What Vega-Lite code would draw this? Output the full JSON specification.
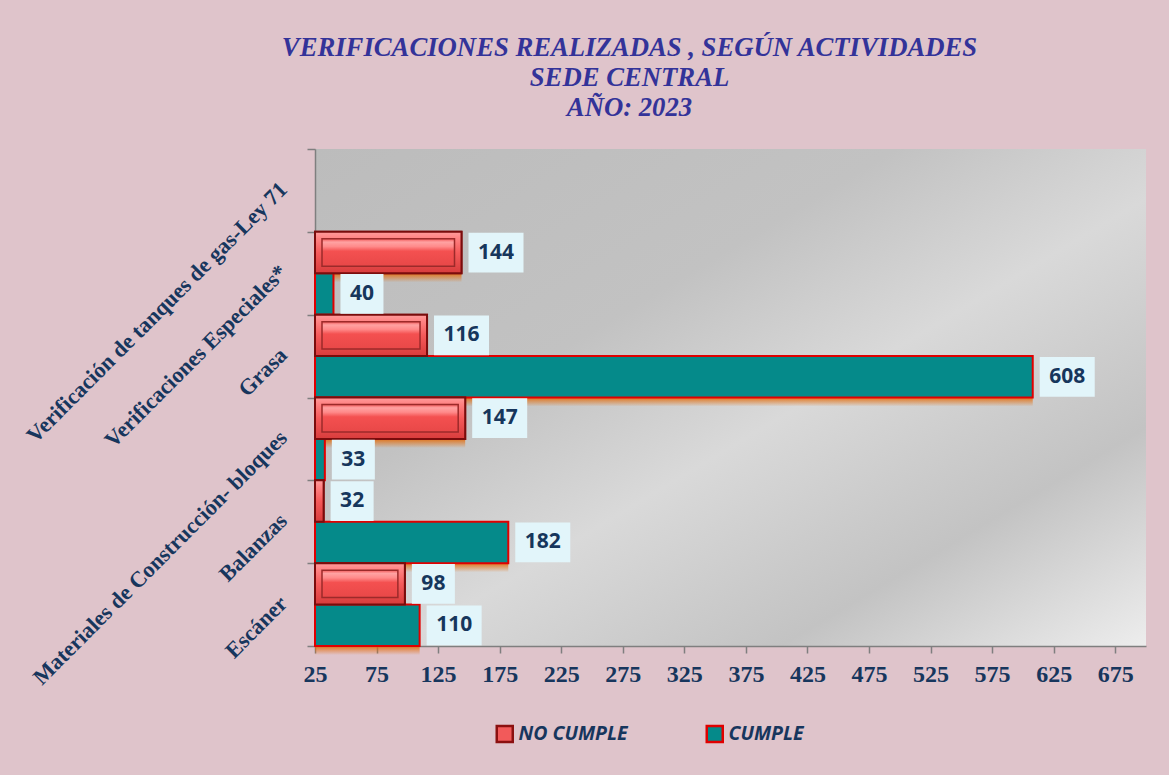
{
  "$schema": "https://vega.github.io/schema/vega-lite/v6.json",
  "width": 831,
  "height": 497,
  "autosize": {"type": "none"},
  "padding": {"left": 315, "top": 149, "right": 23, "bottom": 129},
  "background": "#dfc4cb",
  "title": {
    "text": ["VERIFICACIONES REALIZADAS , SEGÚN ACTIVIDADES", "SEDE CENTRAL", "AÑO: 2023"],
    "font": "Liberation Serif",
    "fontSize": 26.7,
    "fontStyle": "italic",
    "fontWeight": "bold",
    "color": "#333399",
    "lineHeight": 30,
    "anchor": "middle",
    "frame": "group",
    "dx": -101,
    "offset": 15
  },
  "config": {
    "view": {
      "stroke": null,
      "fill": {
        "gradient": "linear",
        "x1": 0, "y1": 0, "x2": 1, "y2": 1,
        "stops": [
          {"offset": 0, "color": "#bcbcbc"},
          {"offset": 0.35, "color": "#c2c2c2"},
          {"offset": 0.55, "color": "#d9d9d9"},
          {"offset": 0.78, "color": "#c3c3c3"},
          {"offset": 1, "color": "#ededed"}
        ]
      }
    }
  },
  "data": {
    "values": [
      {"actividad": "Verificaciones Especiales*", "serie": "NO CUMPLE", "slot": "Verificaciones Especiales* - NO CUMPLE", "valor": 144},
      {"actividad": "Verificaciones Especiales*", "serie": "CUMPLE", "slot": "Verificaciones Especiales* - CUMPLE", "valor": 40},
      {"actividad": "Grasa", "serie": "NO CUMPLE", "slot": "Grasa - NO CUMPLE", "valor": 116},
      {"actividad": "Grasa", "serie": "CUMPLE", "slot": "Grasa - CUMPLE", "valor": 608},
      {"actividad": "Materiales de Construcción- bloques", "serie": "NO CUMPLE", "slot": "Materiales de Construcción- bloques - NO CUMPLE", "valor": 147},
      {"actividad": "Materiales de Construcción- bloques", "serie": "CUMPLE", "slot": "Materiales de Construcción- bloques - CUMPLE", "valor": 33},
      {"actividad": "Balanzas", "serie": "NO CUMPLE", "slot": "Balanzas - NO CUMPLE", "valor": 32},
      {"actividad": "Balanzas", "serie": "CUMPLE", "slot": "Balanzas - CUMPLE", "valor": 182},
      {"actividad": "Escáner", "serie": "NO CUMPLE", "slot": "Escáner - NO CUMPLE", "valor": 98},
      {"actividad": "Escáner", "serie": "CUMPLE", "slot": "Escáner - CUMPLE", "valor": 110}
    ]
  },
  "layer": [
    {
      "mark": {"type": "rule", "opacity": 0},
      "encoding": {
        "y": {
          "field": "actividad",
          "type": "nominal",
          "scale": {
            "domain": ["Verificación de tanques de gas-Ley 71", "Verificaciones Especiales*", "Grasa", "Materiales de Construcción- bloques", "Balanzas", "Escáner"],
            "paddingInner": 0,
            "paddingOuter": 0
          },
          "axis": {
            "title": null,
            "tickBand": "extent",
            "labelAngle": -45,
            "labelAlign": "right",
            "labelBaseline": "alphabetic",
            "labelFont": "Liberation Serif",
            "labelFontWeight": "bold",
            "labelFontSize": 22.3,
            "labelColor": "#17365d",
            "labelPadding": 19,
            "labelLimit": 600,
            "tickSize": 8,
            "tickColor": "#7f7f7f",
            "tickWidth": 1.5,
            "domainColor": "#7f7f7f",
            "domainWidth": 1.5,
            "grid": false
          }
        }
      }
    },
    {
      "encoding": {
        "y": {
          "field": "slot",
          "type": "nominal",
          "scale": {
            "domain": [
              "Verificación de tanques de gas-Ley 71 - NO CUMPLE", "Verificación de tanques de gas-Ley 71 - CUMPLE",
              "Verificaciones Especiales* - NO CUMPLE", "Verificaciones Especiales* - CUMPLE",
              "Grasa - NO CUMPLE", "Grasa - CUMPLE",
              "Materiales de Construcción- bloques - NO CUMPLE", "Materiales de Construcción- bloques - CUMPLE",
              "Balanzas - NO CUMPLE", "Balanzas - CUMPLE",
              "Escáner - NO CUMPLE", "Escáner - CUMPLE"
            ],
            "paddingInner": 0,
            "paddingOuter": 0
          },
          "axis": null
        },
        "x": {
          "field": "valor",
          "type": "quantitative",
          "scale": {"domain": [25, 700], "zero": false, "nice": false},
          "axis": {
            "title": null,
            "values": [25, 75, 125, 175, 225, 275, 325, 375, 425, 475, 525, 575, 625, 675],
            "grid": false,
            "labelFont": "Liberation Serif",
            "labelFontWeight": "bold",
            "labelFontSize": 24,
            "labelColor": "#17365d",
            "labelPadding": 9,
            "labelFlush": false,
            "labelOverlap": false,
            "tickSize": 7,
            "tickColor": "#7f7f7f",
            "tickWidth": 1.5,
            "domainColor": "#7f7f7f",
            "domainWidth": 1.5
          }
        }
      },
      "layer": [
        {
          "mark": {
            "type": "bar",
            "yOffset": 9,
            "fill": {
              "gradient": "linear", "x1": 0, "y1": 0, "x2": 0, "y2": 1,
              "stops": [
                {"offset": 0, "color": "#e46c0a"},
                {"offset": 0.76, "color": "#e46c0a"},
                {"offset": 1, "color": "rgba(228,108,10,0)"}
              ]
            }
          },
          "encoding": {"x2": {"datum": 25}}
        },
        {
          "mark": {"type": "bar", "strokeWidth": 2},
          "encoding": {
            "x2": {"datum": 25},
            "color": {
              "field": "serie",
              "type": "nominal",
              "scale": {"domain": ["NO CUMPLE", "CUMPLE"], "range": ["#f25a5a", "#058a8a"]},
              "legend": {
                "orient": "none",
                "legendX": 180,
                "legendY": 575,
                "direction": "horizontal",
                "title": null,
                "symbolType": "square",
                "symbolSize": 256,
                "symbolStrokeWidth": 2.5,
                "labelFont": "Open Sans",
                "labelFontSize": 19.5,
                "labelFontStyle": "italic",
                "labelFontWeight": "bold",
                "labelColor": "#17365d",
                "labelOffset": 4,
                "columnPadding": 73,
                "labelLimit": 300
              }
            },
            "stroke": {
              "field": "serie",
              "type": "nominal",
              "scale": {"domain": ["NO CUMPLE", "CUMPLE"], "range": ["#8b1010", "#e00000"]},
              "legend": {
                "orient": "none",
                "legendX": 180,
                "legendY": 575,
                "direction": "horizontal",
                "title": null,
                "symbolType": "square",
                "symbolSize": 256,
                "symbolStrokeWidth": 2.5,
                "labelFont": "Open Sans",
                "labelFontSize": 19.5,
                "labelFontStyle": "italic",
                "labelFontWeight": "bold",
                "labelColor": "#17365d",
                "labelOffset": 4,
                "columnPadding": 73,
                "labelLimit": 300
              }
            }
          }
        },
        {
          "transform": [{"filter": "datum.serie === 'NO CUMPLE'"}],
          "mark": {
            "type": "bar",
            "stroke": "#7a0c0c",
            "strokeWidth": 2,
            "fill": {
              "gradient": "linear", "x1": 0, "y1": 0, "x2": 0, "y2": 1,
              "stops": [
                {"offset": 0, "color": "#ff9c9c"},
                {"offset": 0.15, "color": "#ff8484"},
                {"offset": 0.5, "color": "#f55a5a"},
                {"offset": 1, "color": "#d83c3c"}
              ]
            }
          },
          "encoding": {"x2": {"datum": 25}}
        },
        {
          "transform": [{"filter": "datum.serie === 'NO CUMPLE' && datum.valor >= 60"}],
          "mark": {
            "type": "bar",
            "xOffset": -7,
            "x2Offset": 7,
            "height": {"band": 0.66},
            "stroke": "#9c2a2a",
            "strokeWidth": 1.5,
            "fill": {
              "gradient": "linear", "x1": 0, "y1": 0, "x2": 0, "y2": 1,
              "stops": [
                {"offset": 0, "color": "#f25a5a"},
                {"offset": 0.12, "color": "#ffa2a2"},
                {"offset": 0.28, "color": "#ff8a8a"},
                {"offset": 0.45, "color": "#f45050"},
                {"offset": 1, "color": "#e84848"}
              ]
            }
          },
          "encoding": {"x2": {"datum": 25}}
        },
        {
          "transform": [{"filter": "datum.valor >= 100"}],
          "mark": {"type": "bar", "fill": "#e2f5fa", "xOffset": 62, "x2Offset": 7, "height": {"band": 0.96}},
          "encoding": {"x2": {"field": "valor"}}
        },
        {
          "transform": [{"filter": "datum.valor < 100"}],
          "mark": {"type": "bar", "fill": "#e2f5fa", "xOffset": 50, "x2Offset": 7, "height": {"band": 0.96}},
          "encoding": {"x2": {"field": "valor"}}
        },
        {
          "transform": [{"filter": "datum.valor >= 100"}],
          "mark": {"type": "text", "align": "center", "baseline": "middle", "dx": 34.5, "font": "Open Sans", "fontWeight": "bold", "fontSize": 21, "color": "#16365c"},
          "encoding": {"text": {"field": "valor", "type": "quantitative"}}
        },
        {
          "transform": [{"filter": "datum.valor < 100"}],
          "mark": {"type": "text", "align": "center", "baseline": "middle", "dx": 28.5, "font": "Open Sans", "fontWeight": "bold", "fontSize": 21, "color": "#16365c"},
          "encoding": {"text": {"field": "valor", "type": "quantitative"}}
        }
      ]
    }
  ],
  "resolve": {"scale": {"y": "independent"}}
}
